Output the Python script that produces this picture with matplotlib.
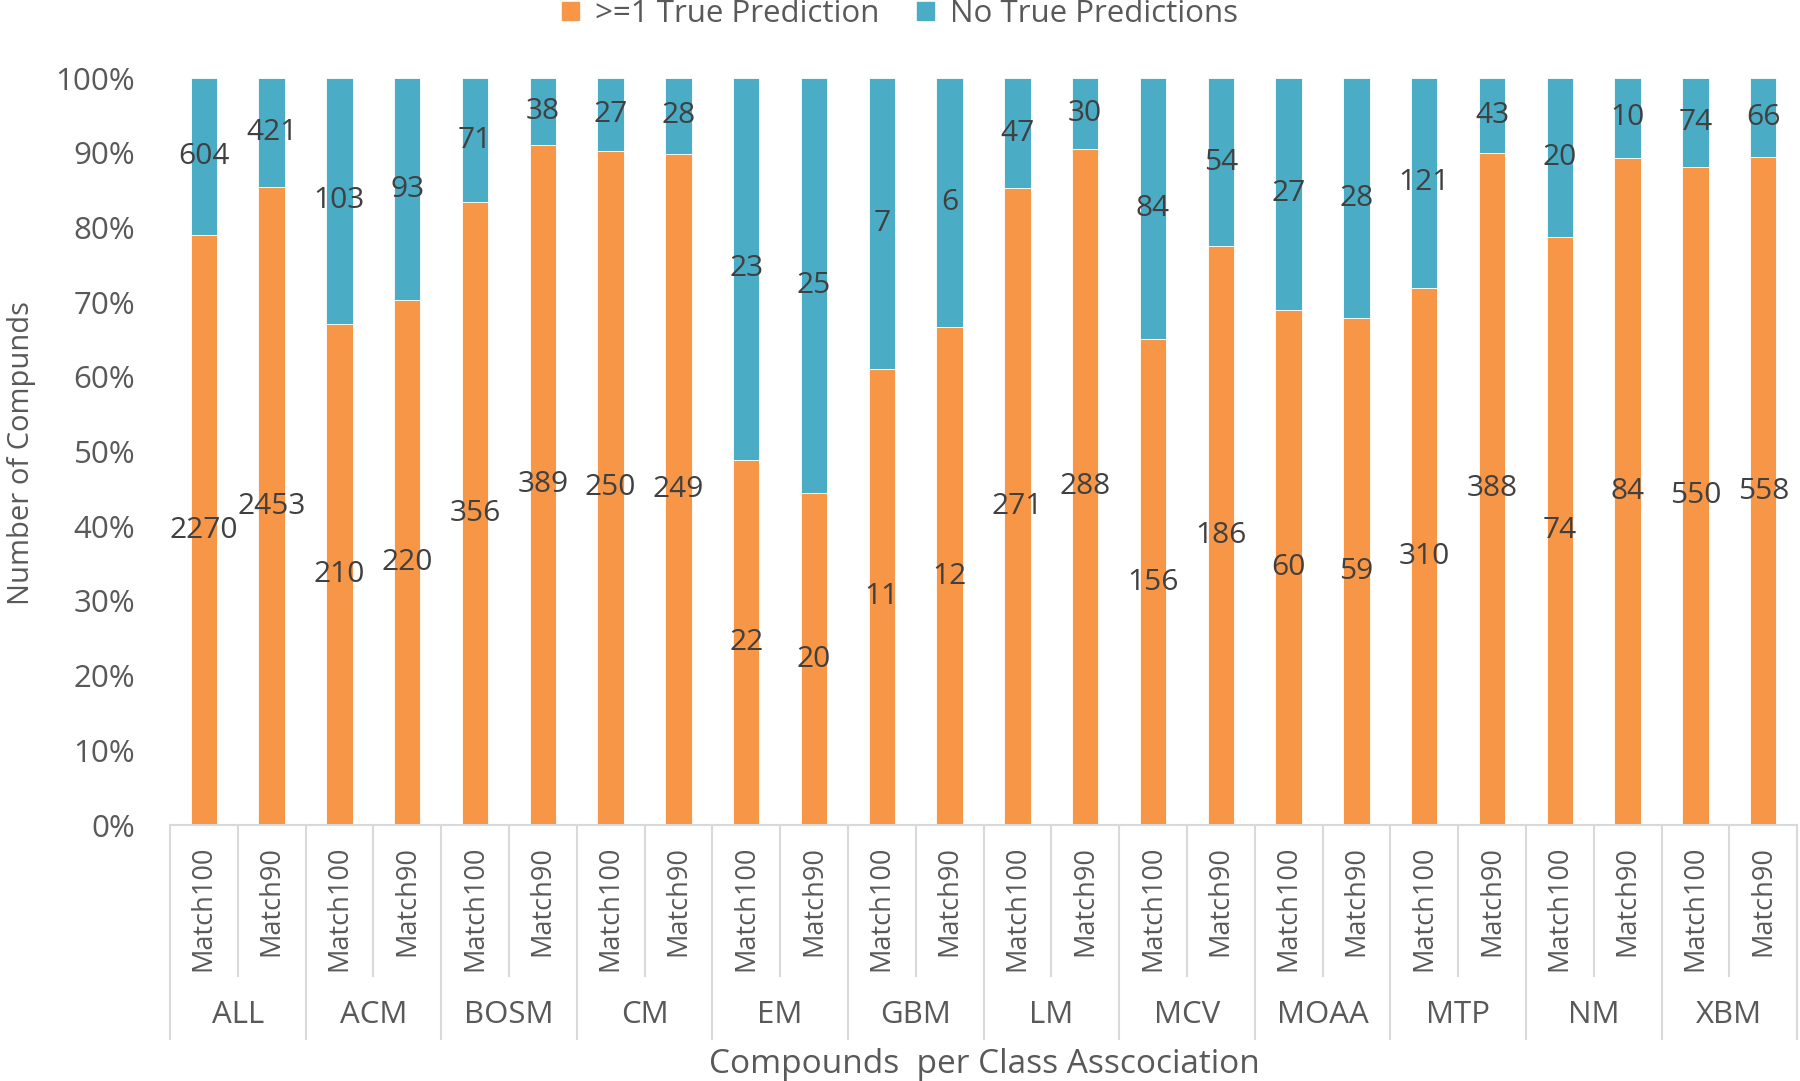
import matplotlib.pyplot as plt
from matplotlib.patches import Patch

# dados
classes = ["ALL", "ACM", "BOSM", "CM", "EM", "GBM", "LM", "MCV", "MOAA", "MTP", "NM", "XBM"]
subs = ["Match100", "Match90"]
true_100 = [2270, 210, 356, 250, 22, 11, 271, 156, 60, 310, 74, 550]
true_90 = [2453, 220, 389, 249, 20, 12, 288, 186, 59, 388, 84, 558]
none_100 = [604, 103, 71, 27, 23, 7, 47, 84, 27, 121, 20, 74]
none_90 = [421, 93, 38, 28, 25, 6, 30, 54, 28, 43, 10, 66]

LARANJA = "#F79646"
AZUL = "#4BACC6"
CINZA = "#595959"
plt.rcParams['font.family'] = ['Open Sans', 'DejaVu Sans']

# monta as barras na ordem ALL-100, ALL-90, ACM-100 ...
verdadeiros, nenhum, rotulos = [], [], []
for i in range(len(classes)):
    verdadeiros += [true_100[i], true_90[i]]
    nenhum += [none_100[i], none_90[i]]
    rotulos += subs

fig = plt.figure(figsize=(18, 10.81), dpi=100)
ax = fig.add_axes([0.0944, 0.2368, 0.904, 0.691])

x = list(range(len(verdadeiros)))
pct_v = [v / (v + n) for v, n in zip(verdadeiros, nenhum)]
pct_n = [n / (v + n) for v, n in zip(verdadeiros, nenhum)]

ax.bar(x, pct_v, width=0.39, color=LARANJA, edgecolor="white", linewidth=0.6)
ax.bar(x, pct_n, width=0.39, bottom=pct_v, color=AZUL, edgecolor="white", linewidth=0.6)

# rótulos de dados no centro de cada segmento
for xi, pv, pn, v, n in zip(x, pct_v, pct_n, verdadeiros, nenhum):
    ax.text(xi, pv / 2, str(v), ha="center", va="center", fontsize=21.5, color="#404040")
    ax.text(xi, pv + pn / 2, str(n), ha="center", va="center", fontsize=21.5, color="#404040")

ax.set_xlim(-0.5, len(x) - 0.5)
ax.set_ylim(0, 1)
ax.set_yticks([i / 10 for i in range(11)])
ax.set_yticklabels([f"{i * 10}%" for i in range(11)], fontsize=22.5, color=CINZA)
ax.tick_params(axis="y", length=0, pad=25)
ax.set_xticks([])
for lado in ["top", "right", "left"]:
    ax.spines[lado].set_visible(False)
ax.spines["bottom"].set_color("#D9D9D9")
ax.spines["bottom"].set_linewidth(1.5)

# eixo x em dois níveis
trans = ax.get_xaxis_transform()
for xi, r in zip(x, rotulos):
    ax.text(xi, -0.028, r, rotation=90, ha="center", va="top", fontsize=19.5,
            color=CINZA, transform=trans)
for k in range(len(x) + 1):
    pos = k - 0.5
    fundo = -0.286 if k % 2 == 0 else -0.202
    ax.plot([pos, pos], [0, fundo], color="#D9D9D9", lw=1.5, transform=trans, clip_on=False)
for i, c in enumerate(classes):
    ax.text(2 * i + 0.5, -0.254, c, ha="center", va="center", fontsize=22.5,
            color=CINZA, transform=trans)

fig.text(0.547, 0.0157, "Compounds  per Class Asscociation", ha="center", va="center",
         fontsize=24, color=CINZA)
fig.text(0.0117, 0.581, "Number of Compunds", rotation=90, ha="center", va="center",
         fontsize=21, color=CINZA)

handles = [Patch(color=LARANJA, label=">=1 True Prediction"),
           Patch(color=AZUL, label="No True Predictions")]
fig.legend(handles=handles, loc="center", bbox_to_anchor=(0.5, 0.987), ncol=2,
           frameon=False, fontsize=22.5, handlelength=0.55, handleheight=0.55,
           columnspacing=1.2, handletextpad=0.5, labelcolor=CINZA)

fig.savefig("out.png", dpi=100)
